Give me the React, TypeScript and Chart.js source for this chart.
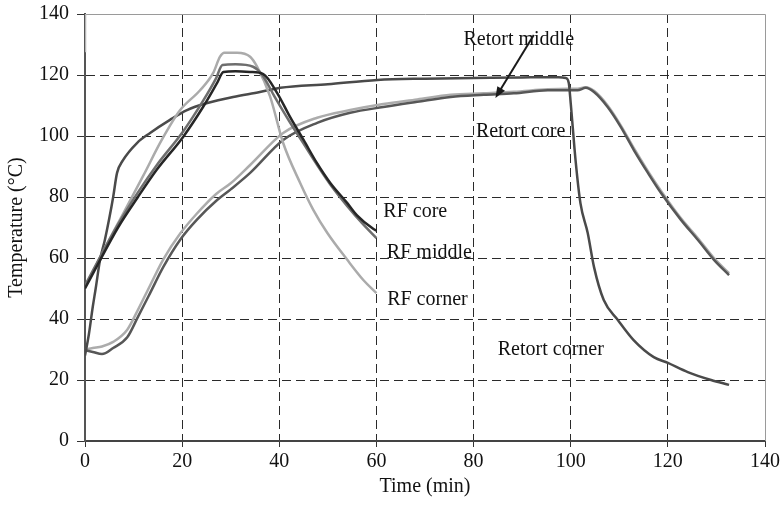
import React, { useEffect, useRef } from 'react';
import { Chart, registerables } from 'chart.js';
Chart.register(...registerables);

// ---- data (time in min, temperature in °C) ----
const rfCoreT = [0, 2.5, 6.8, 10.9, 14.8, 20.2, 24.3, 27.2, 28.5, 31, 34, 36.7, 39.6, 42.3, 45, 47.8, 50.5, 54, 56, 59.4, 60];
const rfCoreV = [50, 57.5, 70, 80, 89, 99.7, 109.5, 117.4, 121, 121.2, 121, 120.3, 114, 106, 98.7, 91, 84.6, 78, 74, 69.5, 69];

const rfMiddleT = [0, 2.5, 6.8, 10.9, 14.8, 20.2, 24.3, 27, 28.3, 31, 34.6, 36.5, 39, 42, 45, 48, 51, 54, 57, 60];
const rfMiddleV = [51, 58.5, 71, 81.5, 90.5, 101.5, 111.5, 119, 123.3, 123.5, 122.7, 120, 113, 105, 97.5, 90, 83, 77, 71.5, 66.5];

const rfCornerT = [0, 4, 8, 12, 15.8, 19.6, 23.7, 26.4, 27.8, 28.7, 31.3, 34, 35.4, 38.1, 40.8, 44.3, 47, 49.9, 54, 57.3, 60];
const rfCornerV = [50.5, 63, 75, 87, 98.7, 108.5, 115, 120.7, 126, 127.3, 127.3, 126, 122.8, 113, 97.7, 84.6, 75.8, 68.2, 59.4, 52.8, 48.5];
const rfCornerStartT = [0, 0];
const rfCornerStartV = [140, 127.5];

const retCornerT = [0, 0.8, 1.6, 2.2, 3.1, 4.1, 5, 5.8, 6.6, 7.8, 10.7, 13.4, 17.5, 21, 25.2, 30.5, 36, 40.2, 50, 60.2, 70, 80, 90, 97.5, 99, 99.6, 100, 101, 102, 103.5, 104.8, 106.8, 109.7, 113, 117.1, 120, 124.1, 128.9, 132.6];
const retCornerV = [28, 35, 44, 50, 59.4, 66, 73, 80, 87.9, 92, 97.7, 101, 105.3, 108.5, 110.8, 112.8, 114.4, 115.8, 117, 118.4, 118.8, 119, 119.2, 119.3, 119, 117.4, 110.8, 92, 78, 68.2, 57, 46.2, 39.7, 33, 27.5, 25.6, 22.6, 20, 18.4];

const retMiddleT = [0, 1.6, 3.5, 5.8, 8.7, 10.9, 13.4, 16.1, 19.6, 23, 27.2, 30, 34, 40.8, 47.8, 54.6, 61.4, 68.4, 75.3, 82.1, 88.3, 95.3, 99.4, 101.4, 103.1, 104.8, 107.6, 110.3, 113, 115.9, 118.6, 122.7, 126.2, 129.5, 132.6];
const retMiddleV = [29.8, 29.2, 28.5, 30.5, 34, 40.7, 48.5, 57, 66, 72.5, 79, 82.5, 87.9, 98.7, 104.3, 107.6, 109.5, 111.2, 112.8, 113.5, 114, 115, 115, 115, 115.8, 114.4, 109.5, 103, 95.4, 87.9, 81.3, 72.5, 65.9, 59.4, 54.4];

const retCoreT = [0, 1.6, 3.5, 5.8, 8.7, 10.9, 13.4, 16.1, 19.6, 23, 27, 30, 34, 40.8, 47.8, 54.6, 61.4, 68.4, 75.3, 82.1, 88.3, 95.3, 99.4, 101.4, 103.1, 104.8, 107.6, 110.3, 113, 115.9, 118.6, 122.7, 126.2, 129.5, 132.6];
const retCoreV = [30, 30.5, 31, 32.5, 36.5, 43, 51, 59.5, 68, 74.5, 81, 84.5, 90.5, 101, 106, 108.5, 110.5, 112, 113.5, 114, 114.5, 115.3, 115.5, 115.5, 116, 114.8, 110, 103.5, 96, 88.5, 82, 73, 66.5, 60, 55];

// ---- annotation labels (data coordinates) ----
const labelTexts = ['Retort middle', 'Retort core', 'RF core', 'RF middle', 'RF corner', 'Retort corner'];
const labelX = [89.3, 89.7, 68, 70.9, 70.5, 95.9];
const labelY = [131.5, 101.4, 75.1, 61.6, 46.2, 29.8];
const arrowFrom = [92.4, 133.1];
const arrowTo = [84.5, 112.5];

const xTickMin = 0, xTickMax = 140, xStep = 20;
const yTickMin = 0, yTickMax = 140, yStep = 20;

const FONT = '"Liberation Serif", "Times New Roman", serif';

function pts(t: number[], v: number[]) {
  return t.map((x, i) => ({ x, y: v[i] }));
}

const framePlugin = {
  id: 'frame',
  beforeDatasetsDraw(chart: any) {
    const { ctx, chartArea } = chart;
    ctx.save();
    ctx.strokeStyle = '#9a9a9a';
    ctx.lineWidth = 1;
    ctx.beginPath();
    ctx.moveTo(chartArea.left, chartArea.top + 0.5);
    ctx.lineTo(chartArea.right + 0.5, chartArea.top + 0.5);
    ctx.lineTo(chartArea.right + 0.5, chartArea.bottom);
    ctx.stroke();
    ctx.restore();
  },
};

const labelPlugin = {
  id: 'labels',
  afterDatasetsDraw(chart: any) {
    const { ctx, scales } = chart;
    const xs = scales.x, ys = scales.y;
    ctx.save();
    ctx.font = '20px ' + FONT;
    ctx.fillStyle = '#111';
    ctx.textAlign = 'center';
    ctx.textBaseline = 'middle';
    labelTexts.forEach((t, i) => {
      ctx.fillText(t, xs.getPixelForValue(labelX[i]), ys.getPixelForValue(labelY[i]));
    });
    const x1 = xs.getPixelForValue(arrowFrom[0]), y1 = ys.getPixelForValue(arrowFrom[1]);
    const x2 = xs.getPixelForValue(arrowTo[0]), y2 = ys.getPixelForValue(arrowTo[1]);
    const ang = Math.atan2(y2 - y1, x2 - x1);
    ctx.strokeStyle = '#1a1a1a';
    ctx.fillStyle = '#1a1a1a';
    ctx.lineWidth = 2;
    ctx.beginPath();
    ctx.moveTo(x1, y1);
    ctx.lineTo(x2 - 6 * Math.cos(ang), y2 - 6 * Math.sin(ang));
    ctx.stroke();
    const L = 11, W = 4.5;
    ctx.beginPath();
    ctx.moveTo(x2, y2);
    ctx.lineTo(x2 - L * Math.cos(ang) + W * Math.sin(ang), y2 - L * Math.sin(ang) - W * Math.cos(ang));
    ctx.lineTo(x2 - L * Math.cos(ang) - W * Math.sin(ang), y2 - L * Math.sin(ang) + W * Math.cos(ang));
    ctx.closePath();
    ctx.fill();
    ctx.restore();
  },
};

export default function App() {
  const ref = useRef<HTMLCanvasElement | null>(null);
  useEffect(() => {
    document.body.style.margin = '0';
    const canvas = ref.current!;
    const mk = (label: string, data: any, color: string) => ({
      label,
      data,
      borderColor: color,
      backgroundColor: color,
      borderWidth: 2.5,
      pointRadius: 0,
      fill: false,
      cubicInterpolationMode: 'monotone' as const,
    });
    const gridColor = (c: any) => {
      const v = c.tick ? c.tick.value : null;
      return v === 0 || v === 140 ? 'rgba(0,0,0,0)' : '#2a2a2a';
    };
    const chart = new Chart(canvas, {
      type: 'line',
      data: {
        datasets: [
          mk('RF core', pts(rfCoreT, rfCoreV), '#262626'),
          mk('RF middle', pts(rfMiddleT, rfMiddleV), '#6e6e6e'),
          mk('RF corner', pts(rfCornerT, rfCornerV), '#ababab'),
          mk('RF corner start', pts(rfCornerStartT, rfCornerStartV), '#b5b5b5'),
          mk('Retort corner', pts(retCornerT, retCornerV), '#4a4a4a'),
          mk('Retort middle', pts(retMiddleT, retMiddleV), '#575757'),
          mk('Retort core', pts(retCoreT, retCoreV), '#acacac'),
        ],
      },
      options: {
        animation: false,
        responsive: false,
        layout: { padding: { top: 14, right: 17, left: 0, bottom: 0 } },
        plugins: { legend: { display: false }, tooltip: { enabled: false } },
        scales: {
          x: {
            type: 'linear',
            min: xTickMin,
            max: xTickMax,
            ticks: { stepSize: xStep, font: { family: FONT, size: 20 }, color: '#111', padding: 3, maxRotation: 0 },
            grid: { color: gridColor, lineWidth: 1, tickLength: 6, tickColor: '#333', drawTicks: true },
            border: { color: '#444', width: 2, dash: [9, 5] },
            title: { display: true, text: 'Time (min)', font: { family: FONT, size: 20 }, color: '#111', padding: { top: 4, bottom: 25 } },
            afterFit: (s: any) => { s.height = 83; s.paddingLeft = 0; s.paddingRight = 0; },
          },
          y: {
            type: 'linear',
            min: yTickMin,
            max: yTickMax,
            ticks: { stepSize: yStep, font: { family: FONT, size: 20 }, color: '#111', padding: 8 },
            grid: { color: gridColor, lineWidth: 1, tickLength: 8, tickColor: '#333', drawTicks: true },
            border: { color: '#555', width: 2, dash: [9, 5] },
            title: { display: true, text: 'Temperature (°C)', font: { family: FONT, size: 20 }, color: '#111', padding: { top: 5, bottom: 0 } },
            afterFit: (s: any) => { s.width = 85; s.paddingTop = 0; s.paddingBottom = 0; },
          },
        },
      },
      plugins: [framePlugin, labelPlugin],
    });
    return () => chart.destroy();
  }, []);
  return (
    <div style={{ width: 782, height: 524, background: '#fff' }}>
      <canvas ref={ref} width={782} height={524} style={{ display: 'block' }} />
    </div>
  );
}
